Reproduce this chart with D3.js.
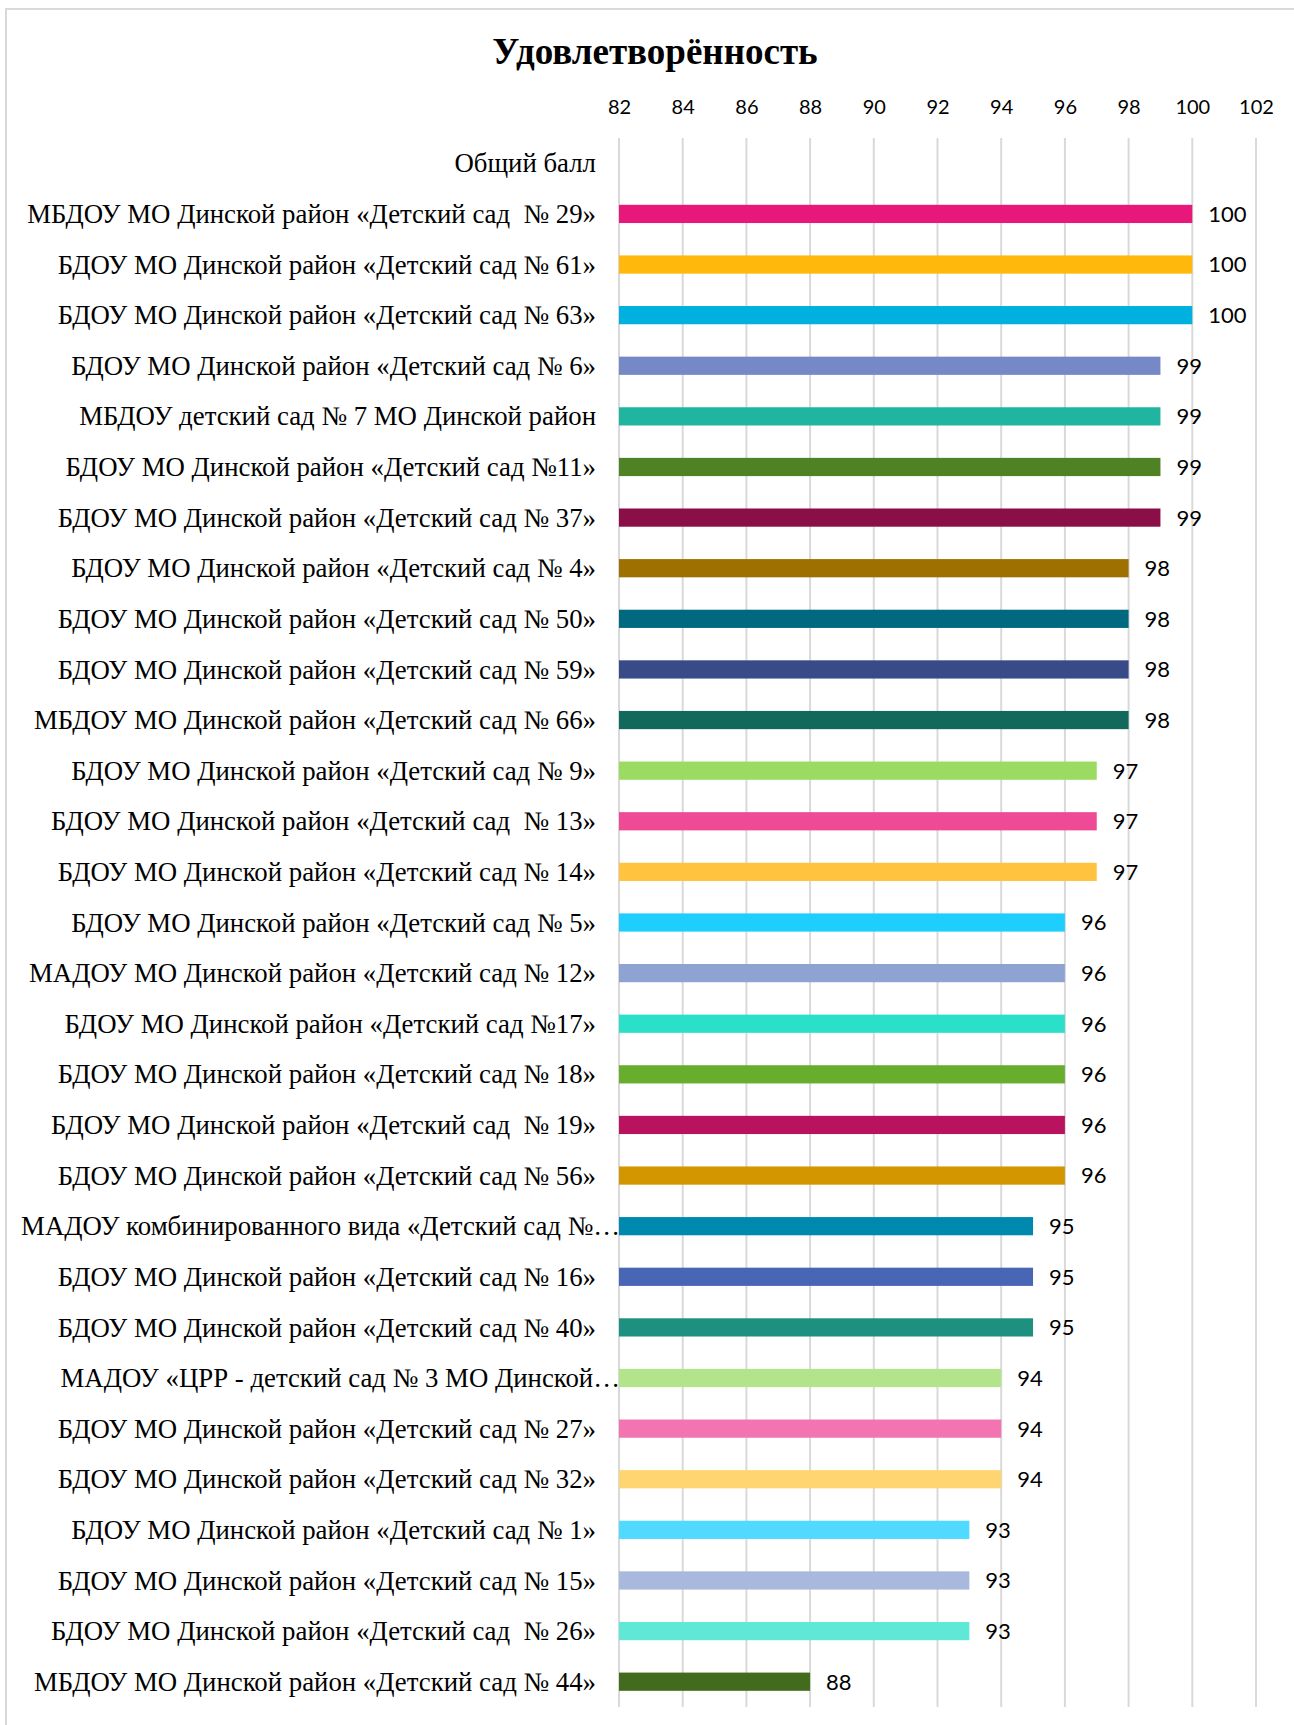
<!DOCTYPE html>
<html>
<head>
<meta charset="utf-8">
<script src="https://cdn.jsdelivr.net/npm/d3@7"></script>
<style>
  html, body { margin: 0; padding: 0; background: #ffffff; }
  svg { display: block; }
</style>
</head>
<body>
<div id="chart"></div>
<script>
const title = "Удовлетворённость";
const categories = [
  "Общий балл",
  "МБДОУ МО Динской район «Детский сад  № 29»",
  "БДОУ МО Динской район «Детский сад № 61»",
  "БДОУ МО Динской район «Детский сад № 63»",
  "БДОУ МО Динской район «Детский сад № 6»",
  "МБДОУ детский сад № 7 МО Динской район",
  "БДОУ МО Динской район «Детский сад №11»",
  "БДОУ МО Динской район «Детский сад № 37»",
  "БДОУ МО Динской район «Детский сад № 4»",
  "БДОУ МО Динской район «Детский сад № 50»",
  "БДОУ МО Динской район «Детский сад № 59»",
  "МБДОУ МО Динской район «Детский сад № 66»",
  "БДОУ МО Динской район «Детский сад № 9»",
  "БДОУ МО Динской район «Детский сад  № 13»",
  "БДОУ МО Динской район «Детский сад № 14»",
  "БДОУ МО Динской район «Детский сад № 5»",
  "МАДОУ МО Динской район «Детский сад № 12»",
  "БДОУ МО Динской район «Детский сад №17»",
  "БДОУ МО Динской район «Детский сад № 18»",
  "БДОУ МО Динской район «Детский сад  № 19»",
  "БДОУ МО Динской район «Детский сад № 56»",
  "МАДОУ комбинированного вида «Детский сад №…",
  "БДОУ МО Динской район «Детский сад № 16»",
  "БДОУ МО Динской район «Детский сад № 40»",
  "МАДОУ «ЦРР - детский сад № 3 МО Динской…",
  "БДОУ МО Динской район «Детский сад № 27»",
  "БДОУ МО Динской район «Детский сад № 32»",
  "БДОУ МО Динской район «Детский сад № 1»",
  "БДОУ МО Динской район «Детский сад № 15»",
  "БДОУ МО Динской район «Детский сад  № 26»",
  "МБДОУ МО Динской район «Детский сад № 44»"
];
const values = [null, 100, 100, 100, 99, 99, 99, 99, 98, 98, 98, 98, 97, 97, 97, 96, 96, 96, 96, 96, 96, 95, 95, 95, 94, 94, 94, 93, 93, 93, 88];
const colors = [null, "#E8177C", "#FFB80B", "#00B0DE", "#7489C6", "#1FB5A0", "#4E8225", "#8A0E48", "#9E6F01", "#006980", "#384B88", "#12695B", "#9BDB62", "#EE4A95", "#FFC33F", "#1ECEFF", "#8FA3D3", "#2BE0C9", "#68AD2E", "#B9135F", "#D39500", "#0089AF", "#4866B4", "#1D9080", "#B3E38A", "#F274B0", "#FFD571", "#50DAFF", "#A9B8DD", "#60E8D7", "#426B1D"];
const tickValues = [82, 84, 86, 88, 90, 92, 94, 96, 98, 100, 102];

const W = 1294, H = 1725;
const svg = d3.select("#chart").append("svg").attr("width", W).attr("height", H);

// chart frame
svg.append("rect").attr("x", 6).attr("y", 9).attr("width", W + 10).attr("height", H + 10)
  .attr("fill", "#ffffff").attr("stroke", "#D9D9D9").attr("stroke-width", 2);

const x = d3.scaleLinear().domain([82, 102]).range([619, 1256]);
const y = d3.scaleBand().domain(d3.range(categories.length)).range([138, 1707])
  .paddingInner(0.64).paddingOuter(0.32);

// title
svg.append("text").attr("x", 655).attr("y", 64).attr("text-anchor", "middle")
  .attr("font-family", "'Liberation Serif', 'Times New Roman', serif").attr("font-weight", "bold")
  .attr("font-size", 37).attr("fill", "#000").text(title);

// gridlines
svg.append("g").selectAll("line").data(tickValues).join("line")
  .attr("x1", d => x(d)).attr("x2", d => x(d)).attr("y1", 138).attr("y2", 1707)
  .attr("stroke", "#D9D9D9").attr("stroke-width", 2);

// top axis labels
const axis = svg.append("g").attr("transform", "translate(0,114)")
  .call(d3.axisTop(x).tickValues(tickValues).tickSize(0).tickPadding(0));
axis.select(".domain").remove();
axis.selectAll("text").attr("font-family", "Lato, 'Open Sans', sans-serif").attr("font-size", 20).attr("fill", "#000");

// bars
const rows = categories.map((c, i) => ({ c, i, v: values[i], col: colors[i] }));
svg.append("g").selectAll("rect").data(rows.filter(d => d.v !== null)).join("rect")
  .attr("x", x(82)).attr("y", d => y(d.i)).attr("width", d => x(d.v) - x(82)).attr("height", y.bandwidth())
  .attr("fill", d => d.col);

// value labels
svg.append("g").selectAll("text").data(rows.filter(d => d.v !== null)).join("text")
  .attr("x", d => x(d.v) + 16).attr("y", d => y(d.i) + y.bandwidth() / 2).attr("dy", "0.36em")
  .attr("font-family", "Lato, 'Open Sans', sans-serif").attr("font-size", 22).attr("fill", "#000")
  .text(d => d.v);

// category labels
svg.append("g").selectAll("text").data(rows).join("text")
  .attr("x", d => d.c.endsWith("…") ? 620 : 596)
  .attr("y", d => y(d.i) + y.bandwidth() / 2).attr("dy", "0.34em")
  .attr("text-anchor", "end")
  .attr("font-family", "'Liberation Serif', 'Times New Roman', serif").attr("font-size", 26.8).attr("fill", "#000")
  .attr("xml:space", "preserve").style("white-space", "pre")
  .text(d => d.c);
</script>
</body>
</html>
